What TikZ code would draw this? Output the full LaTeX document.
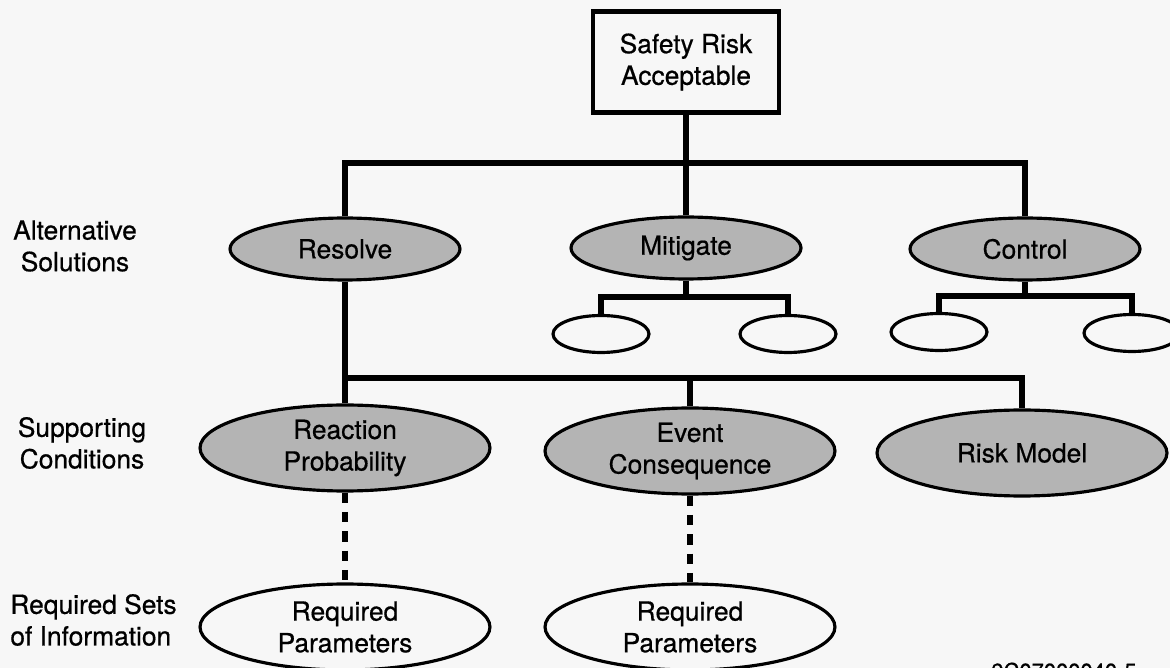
\documentclass[tikz,border=0pt]{standalone}
\usepackage{fontspec}
\setmainfont{TeX Gyre Heros}[FakeBold=0.6]
\usetikzlibrary{shapes.geometric,shadows}
\definecolor{pagebg}{HTML}{F7F7F7}
\definecolor{ovalgray}{RGB}{180,180,180}
\begin{document}
\begin{tikzpicture}[x=0.02cm,y=-0.02cm,
  font=\fontsize{15}{18}\selectfont,
  topbox/.style={draw, line width=2.4pt, fill=pagebg, align=center,
    minimum width=3.72cm, minimum height=2.02cm, inner sep=0pt,
    drop shadow={shadow xshift=1.4pt, shadow yshift=-1.6pt, fill=black, opacity=1}},
  altoval/.style={ellipse, draw, line width=1.8pt, fill=ovalgray, inner sep=0pt,
    minimum width=4.6cm, minimum height=1.24cm},
  smalloval/.style={ellipse, draw, line width=1.8pt, fill=pagebg, inner sep=0pt,
    minimum width=1.92cm, minimum height=0.74cm},
  supoval/.style={ellipse, draw, line width=1.8pt, fill=ovalgray, inner sep=0pt,
    align=center, minimum width=5.8cm, minimum height=1.72cm},
  reqoval/.style={ellipse, draw, line width=1.8pt, fill=pagebg, inner sep=0pt,
    align=center, minimum width=5.8cm, minimum height=1.72cm},
  link/.style={line width=3.2pt},
  dashlink/.style={line width=3.2pt, dash pattern=on 6pt off 5pt},
  rowlabel/.style={align=center, inner sep=0pt}
]
% page
\fill[pagebg] (0,0) rectangle (1170,668);
\useasboundingbox (0,0) rectangle (1170,668);

% goal
\node[topbox] (top) at (686,62) {Safety Risk\\Acceptable};

% alternative solutions
\node[altoval] (resolve)  at (345,249) {Resolve};
\node[altoval] (mitigate) at (686,248) {Mitigate};
\node[altoval] (control)  at (1025,249) {Control};

\node[smalloval] (ma) at (601,334) {};
\node[smalloval] (mb) at (788,334) {};
\node[smalloval] (ca) at (939,332) {};
\node[smalloval] (cb) at (1132,333) {};

% supporting conditions
\node[supoval] (reaction) at (345,448) {Reaction\\Probability};
\node[supoval] (event)    at (690,451) {Event\\Consequence};
\node[supoval] (riskm)    at (1022,453) {Risk Model};

% required sets of information
\node[reqoval] (reqa) at (345,627) {Required\\Parameters};
\node[reqoval] (reqb) at (690,627) {Required\\Parameters};

% row labels
\node[rowlabel] (lalt) at (75,246) {Alternative\\Solutions};
\node[rowlabel] (lsup) at (82,443) {Supporting\\Conditions};
\node[rowlabel, align=left, anchor=west] (lreq) at (10,620) {Required Sets\\of Information};

% drawing number
\node[anchor=base west, inner sep=0pt, font=\fontsize{12.5}{15}\selectfont] (code) at (991,679) {9C07000040-5};

% junction levels
\coordinate (j1) at (686,163);
\coordinate (j2) at (686,378);
\coordinate (jm) at (686,297);
\coordinate (jc) at (1025,296);

% tree connectors
\draw[link] (top.south) -- (mitigate.north);
\draw[link] (resolve.north) -- (resolve.north |- j1) -- (control.north |- j1) -- (control.north);
\draw[link] (mitigate.south) -- (mitigate.south |- jm);
\draw[link] (ma.north) -- (ma.north |- jm) -- (mb.north |- jm) -- (mb.north);
\draw[link] (control.south) -- (control.south |- jc);
\draw[link] (ca.north) -- (ca.north |- jc) -- (cb.north |- jc) -- (cb.north);
\draw[link] (resolve.south) -- (reaction.north);
\draw[link] (reaction.north |- j2) -- (riskm.north |- j2) -- (riskm.north);
\draw[link] (event.north) -- (event.north |- j2);

% information links
\draw[dashlink] (reaction.south) -- (reqa.north);
\draw[dashlink] (event.south) -- (reqb.north);
\end{tikzpicture}
\end{document}
